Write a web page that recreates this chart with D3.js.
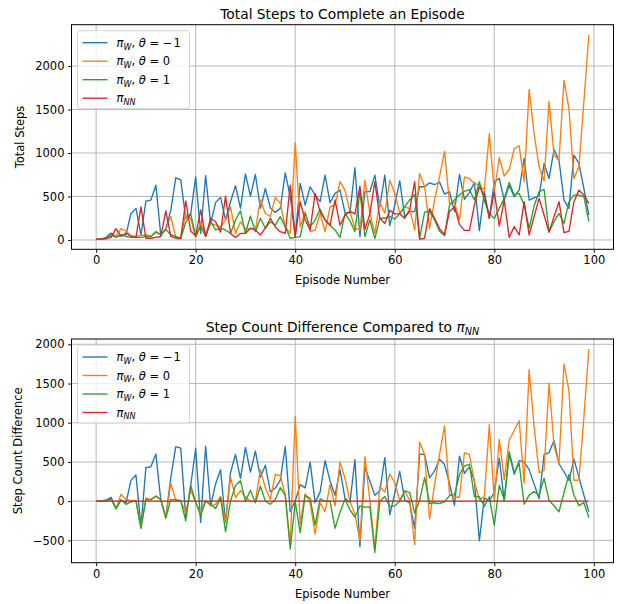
<!DOCTYPE html>
<html>
<head>
<meta charset="utf-8">
<script src="https://cdn.jsdelivr.net/npm/d3@7"></script>
<style>
  body { margin: 0; background: #fff; }
  text { font-family: "DejaVu Sans", sans-serif; fill: #000; }
</style>
</head>
<body>
<svg id="chart" width="618" height="604"></svg>
<script>
// Episode index 0..99
const episodes = d3.range(100);

// Total steps per episode for each policy
const stepsThetaNeg1 = [10,10,30,80,40,50,60,305,363,57,447,459,630,50,130,340,715,690,250,300,
  725,75,740,190,430,490,230,440,625,363,760,505,753,363,592,370,317,363,772,497,
  38,650,400,612,516,440,745,428,535,573,317,313,830,38,555,555,745,382,745,165,
  400,680,268,325,325,612,612,657,635,665,527,555,325,753,466,547,661,107,560,248,
  669,707,459,630,497,573,937,459,485,508,879,707,1040,917,459,363,975,879,592,287];
const stepsTheta0 = [10,10,20,50,40,130,100,50,40,50,60,40,100,60,120,270,30,20,300,245,
  30,200,50,190,170,150,230,382,75,210,130,130,115,460,305,270,490,420,150,75,
  1120,150,325,95,115,305,95,382,400,670,573,325,135,115,688,305,76,440,305,688,
  535,305,380,360,115,765,612,134,460,726,1020,420,430,230,726,707,650,630,573,1223,
  555,948,734,810,1051,1082,669,1732,1223,841,677,1594,975,917,1835,1510,707,841,1586,2358];
const stepsTheta1 = [10,10,15,60,30,60,40,30,30,30,40,40,90,60,120,60,40,20,200,300,
  40,160,40,210,115,135,115,75,230,335,75,275,95,250,135,210,170,268,150,20,
  30,38,305,150,230,355,230,170,115,30,305,220,95,560,40,230,15,250,250,270,
  240,300,380,460,520,20,320,330,230,100,50,400,460,520,560,580,460,669,450,305,
  248,363,478,661,516,535,401,134,390,555,581,96,210,305,191,440,516,516,497,210];
const stepsNN = [10,10,15,30,130,40,80,40,30,380,20,20,30,40,335,40,20,15,450,100,
  50,345,40,250,210,90,505,75,30,75,75,135,115,57,135,250,150,95,75,630,
  38,440,230,115,535,325,230,170,460,170,280,330,300,620,120,300,670,250,190,340,
  300,300,250,350,670,10,20,360,250,130,60,330,380,180,110,110,400,612,516,248,
  555,160,459,30,153,57,440,57,268,478,287,88,268,440,84,100,440,573,516,420];

// Tick values
const xTicks = [0, 20, 40, 60, 80, 100];
const yTicksTotal = [0, 500, 1000, 1500, 2000];
const yTicksDiff = [-500, 0, 500, 1000, 1500, 2000];

const seriesColors = ["#1f77b4", "#ff7f0e", "#2ca02c", "#d62728"];
const thetaValues = ["\u2212\u200a1", "0", "1"];

const FONT = 11.5;
const svg = d3.select("#chart");

// mathtext-like label: italic symbols and subscripts
function richText(sel, parts, size) {
  let shifted = 0;
  parts.forEach(p => {
    const ts = sel.append("tspan").text(p.t);
    if (p.it) ts.attr("font-style", "italic");
    if (p.sub) {
      ts.attr("font-size", size * 0.7).attr("dy", size * 0.25 - shifted);
      shifted = size * 0.25;
    } else if (shifted) {
      ts.attr("dy", -shifted);
      shifted = 0;
    }
  });
}

function legendParts(i) {
  if (i === 3) return [{t: "\u03c0", it: true}, {t: "NN", it: true, sub: true}];
  return [{t: "\u03c0", it: true}, {t: "W", it: true, sub: true}, {t: ", "},
          {t: "\u03b8", it: true}, {t: " = " + thetaValues[i]}];
}

const x = d3.scaleLinear().domain([-4.95, 103.95]).range([71.5, 613.5]);

function drawPanel(cfg) {
  const g = svg.append("g");
  const all = cfg.series.flat();
  const lo = d3.min(all), hi = d3.max(all), pad = (hi - lo) * 0.05;
  const y = d3.scaleLinear().domain([lo - pad, hi + pad]).range([cfg.bottom, cfg.top]);

  // grid
  g.append("g").selectAll("line").data(xTicks).join("line")
    .attr("x1", d => x(d)).attr("x2", d => x(d))
    .attr("y1", cfg.top).attr("y2", cfg.bottom)
    .attr("stroke", "#b0b0b0").attr("stroke-width", 0.9);
  g.append("g").selectAll("line").data(cfg.yTicks).join("line")
    .attr("x1", 71.5).attr("x2", 613.5)
    .attr("y1", d => y(d)).attr("y2", d => y(d))
    .attr("stroke", "#b0b0b0").attr("stroke-width", 0.9);

  // series lines
  const line = d3.line().x((d, i) => x(episodes[i])).y(d => y(d));
  const clipId = "clip" + Math.round(cfg.top);
  g.append("clipPath").attr("id", clipId).append("rect")
    .attr("x", 71.5).attr("y", cfg.top).attr("width", 542).attr("height", cfg.bottom - cfg.top);
  g.append("g").attr("clip-path", `url(#${clipId})`)
    .selectAll("path").data(cfg.series).join("path")
    .attr("d", d => line(d))
    .attr("fill", "none")
    .attr("stroke", (d, i) => seriesColors[i])
    .attr("stroke-width", 1.35)
    .attr("stroke-linejoin", "round");

  // frame
  g.append("rect").attr("x", 71.5).attr("y", cfg.top)
    .attr("width", 542).attr("height", cfg.bottom - cfg.top)
    .attr("fill", "none").attr("stroke", "#000").attr("stroke-width", 1);

  // axes
  const fmt = d => d < 0 ? "\u2212" + Math.abs(d) : String(d);
  const xa = g.append("g").attr("transform", `translate(0,${cfg.bottom})`)
    .call(d3.axisBottom(x).tickValues(xTicks).tickSize(3.5).tickPadding(3.5));
  const ya = g.append("g").attr("transform", "translate(71.5,0)")
    .call(d3.axisLeft(y).tickValues(cfg.yTicks).tickFormat(fmt).tickSize(3.5).tickPadding(3.5));
  [xa, ya].forEach(a => {
    a.select(".domain").remove();
    a.selectAll("line").attr("stroke", "#000").attr("stroke-width", 0.9);
    a.selectAll("text").attr("font-size", FONT).attr("font-family", "DejaVu Sans, sans-serif").attr("fill", "#000");
  });

  // axis labels and title
  g.append("text").attr("x", 342.5).attr("y", cfg.bottom + 35)
    .attr("text-anchor", "middle").attr("font-size", FONT).text("Episode Number");
  g.append("text")
    .attr("transform", `translate(${cfg.ylabelX},${(cfg.top + cfg.bottom) / 2}) rotate(-90)`)
    .attr("text-anchor", "middle").attr("font-size", FONT).text(cfg.ylabel);
  const t = g.append("text").attr("x", 342.5).attr("y", cfg.titleY)
    .attr("text-anchor", "middle").attr("font-size", 13.8);
  richText(t, cfg.title, 13.8);

  // legend
  const lg = g.append("g");
  lg.append("rect").attr("x", 77.5).attr("y", cfg.top + 6).attr("width", 112).attr("height", 78)
    .attr("rx", 2.5).attr("fill", "#fff").attr("fill-opacity", 0.8)
    .attr("stroke", "#d0d0d0").attr("stroke-width", 0.9);
  cfg.series.forEach((s, i) => {
    const ry = cfg.top + 18 + i * 18.5;
    lg.append("line").attr("x1", 82.5).attr("x2", 107.5).attr("y1", ry).attr("y2", ry)
      .attr("stroke", seriesColors[i]).attr("stroke-width", 1.35);
    const lt = lg.append("text").attr("x", 116.5).attr("y", ry + 4).attr("font-size", FONT);
    richText(lt, legendParts(i), FONT);
  });
}

const totals = [stepsThetaNeg1, stepsTheta0, stepsTheta1, stepsNN];
drawPanel({
  top: 24.7, bottom: 249.3, series: totals, yTicks: yTicksTotal,
  title: [{t: "Total Steps to Complete an Episode"}], titleY: 18.5,
  ylabel: "Total Steps", ylabelX: 24
});

// difference of each policy's steps against the NN policy
const diffs = totals.map(s => s.map((v, i) => v - stepsNN[i]));
drawPanel({
  top: 339, bottom: 562.7, series: diffs, yTicks: yTicksDiff,
  title: [{t: "Step Count Difference Compared to "}, {t: "\u03c0", it: true}, {t: "NN", it: true, sub: true}],
  titleY: 331.5,
  ylabel: "Step Count Difference", ylabelX: 22
});
</script>
</body>
</html>
